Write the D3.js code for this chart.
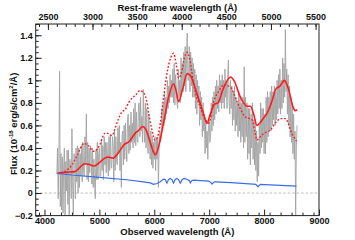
<!DOCTYPE html>
<html>
<head>
<meta charset="utf-8">
<script src="https://cdn.jsdelivr.net/npm/d3@7"></script>
<style>
  body { margin: 0; background: #fff; }
  svg { display: block; font-family: "Liberation Sans", Arial, sans-serif; }
  .axis text { font-size: 9px; font-weight: bold; fill: #111; }
  .axis line { stroke: #222; }
  .title { font-size: 9.5px; font-weight: bold; fill: #111; }
</style>
</head>
<body>
<svg id="chart"></svg>
<script>
// redshift between observed and rest frame
const z = 0.625;

// observed spectrum, uniform grid starting at 4225 A, 12.5 A per pixel
const grayStart = 4225;
const grayStep = 12.5;
const grayFlux = [
  0.17, 0.4, -0.05, 0.3, 1.08, -0.12, 0.35, -0.15,
  0.32, -0.18, 0.25, 0.4, -0.2, 0.28, 0.02, 0.38,
  -0.1, 0.38, -0.2, 0.3, 0.22, -0.05, 0.57, 0.1,
  -0.19, 0.35, 0.3, -0.05, 0.4, 0.1, 0.42, 0.0,
  0.4, 0.05, 0.35, 0.15, 0.42, 0.1, 0.45, 0.2,
  0.15, 0.5, 0.25, 0.7, 0.12, 0.45, 0.1, 0.4,
  0.18, 0.42, 0.35, 0.08, 0.4, 0.05, 0.3, 0.1,
  -0.05, 0.38, 0.12, 0.45, 0.12, 0.35, 0.4, 0.15,
  0.15, 0.48, 0.2, 0.42, 0.12, 0.5, 0.25, 0.45,
  0.18, 0.45, 0.3, 0.15, 0.5, 0.2, 0.52, 0.25,
  0.22, 0.5, 0.42, 0.1, 0.55, 0.2, 0.5, 0.3,
  0.25, 0.58, 0.35, 0.6, 0.2, 0.45, 0.05, 0.5,
  0.55, 0.25, 0.6, 0.3, 0.62, 0.4, 0.28, 0.65,
  0.7, 0.35, 0.6, 0.38, 0.72, 0.45, 0.62, 0.4,
  0.75, 0.45, 0.8, 0.42, 0.72, 0.5, 0.45, 0.78,
  0.8, 0.5, 0.85, 0.55, 0.68, 0.45, 0.92, 0.6,
  0.45, 0.8, 0.4, 0.75, 0.5, 0.35, 0.7, 0.45,
  0.3, 0.55, 0.25, 0.5, 0.22, 0.45, 0.3, 0.5,
  0.2, 0.48, 0.3, 0.5, 0.05, 0.4, 0.55, 0.45,
  0.5, 0.75, 0.55, 0.8, 0.6, 0.9, 0.65, 0.85,
  0.7, 1.0, 0.75, 0.95, 0.8, 1.05, 0.85, 1.0,
  0.85, 1.1, 0.8, 1.15, 0.78, 1.05, 0.95, 0.8,
  0.75, 1.1, 0.85, 1.0, 0.8, 1.2, 0.9, 1.15,
  0.9, 1.25, 0.95, 1.3, 0.9, 1.2, 1.42, 1.0,
  1.0, 1.3, 0.9, 1.25, 0.95, 1.2, 0.85, 1.15,
  0.85, 1.1, 0.75, 1.05, 0.7, 1.0, 0.8, 0.95,
  0.6, 0.9, 0.65, 0.85, 0.5, 0.8, 0.55, 0.7,
  0.35, 0.65, 0.4, 0.55, 0.3, 0.6, 0.65, 0.45,
  0.5, 0.8, 0.55, 0.85, 0.6, 0.9, 0.65, 0.95,
  0.7, 1.0, 0.75, 0.95, 0.72, 1.05, 0.8, 1.0,
  0.75, 1.05, 0.8, 1.0, 0.75, 1.1, 0.85, 1.0,
  0.75, 1.05, 1.18, 0.8, 0.7, 1.0, 0.75, 0.95,
  0.6, 0.9, 0.65, 0.95, 0.55, 0.85, 0.6, 0.8,
  0.5, 0.9, 0.55, 0.85, 0.45, 0.8, 0.5, 0.85,
  0.4, 1.12, 0.45, 0.85, 0.5, 0.8, 0.3, 0.75,
  0.35, 0.75, 0.25, 0.7, 0.4, 0.8, 0.3, 0.65,
  0.25, 0.65, 0.2, 0.55, 0.1, 0.45, 0.15, 0.6,
  0.35, 0.8, 0.4, 0.75, 0.45, 0.75, 0.35, 0.7,
  0.35, 0.85, 0.45, 0.9, 0.5, 0.85, 0.55, 0.9,
  0.55, 0.95, 0.6, 0.9, 0.65, 0.95, 0.6, 0.9,
  0.65, 1.0, 0.7, 1.05, 0.75, 1.1, 0.7, 1.0,
  0.75, 1.2, 0.8, 1.15, 0.85, 1.45, 0.9, 1.1,
  0.7, 1.05, 0.6, 0.95, 0.5, 0.85, 0.45, 0.8,
  0.35, 0.7, 0.3, 0.55, -0.2, 0.4, 0.6
];

// model 1 (solid red)
const modelAWave = [4250, 4400, 4550, 4650, 4730, 4800, 4900, 5000, 5100, 5150, 5250, 5350, 5450, 5550, 5650, 5700, 5790, 5850, 5920, 5980, 6020, 6060, 6110, 6168, 6260, 6351, 6400, 6442, 6520, 6600, 6660, 6777, 6900, 6960, 7020, 7100, 7160, 7250, 7390, 7460, 7560, 7690, 7750, 7810, 7870, 7920, 7980, 8054, 8146, 8210, 8290, 8370, 8440, 8530, 8570, 8600];
const modelAFlux = [0.18, 0.185, 0.19, 0.23, 0.26, 0.255, 0.24, 0.27, 0.31, 0.32, 0.31, 0.36, 0.43, 0.46, 0.53, 0.55, 0.59, 0.56, 0.46, 0.37, 0.34, 0.38, 0.48, 0.62, 0.85, 0.97, 0.9, 0.81, 0.93, 1.06, 1.04, 0.88, 0.7, 0.62, 0.7, 0.79, 0.8, 0.92, 1.03, 0.99, 0.86, 0.77, 0.77, 0.7, 0.6, 0.62, 0.66, 0.71, 0.82, 0.92, 0.95, 1.0, 0.93, 0.76, 0.73, 0.74];

// model 2 (dotted red)
const modelBWave = [4300, 4400, 4500, 4600, 4720, 4800, 4900, 5000, 5100, 5150, 5230, 5290, 5350, 5410, 5470, 5530, 5590, 5660, 5743, 5800, 5840, 5900, 5957, 6010, 6060, 6110, 6170, 6230, 6300, 6351, 6400, 6442, 6500, 6550, 6595, 6650, 6715, 6838, 6930, 6990, 7081, 7170, 7264, 7385, 7508, 7660, 7782, 7830, 7870, 7930, 8000, 8115, 8237, 8300, 8390, 8440, 8480, 8540, 8590];
const modelBFlux = [0.18, 0.2, 0.25, 0.34, 0.44, 0.42, 0.37, 0.42, 0.53, 0.53, 0.51, 0.58, 0.66, 0.72, 0.74, 0.8, 0.84, 0.87, 0.91, 0.89, 0.86, 0.7, 0.56, 0.47, 0.5, 0.62, 0.85, 1.06, 1.2, 1.24, 1.14, 1.02, 1.08, 1.2, 1.25, 1.18, 0.97, 0.76, 0.65, 0.62, 0.81, 0.9, 0.96, 0.94, 0.81, 0.675, 0.65, 0.55, 0.47, 0.5, 0.53, 0.56, 0.64, 0.66, 0.66, 0.62, 0.56, 0.5, 0.46];

// stellar / host component (blue)
const hostWave = [4223, 4500, 5000, 5500, 5800, 5926, 5986, 6050, 6108, 6168, 6200, 6230, 6260, 6290, 6320, 6350, 6380, 6413, 6440, 6473, 6510, 6546, 6600, 6640, 6657, 6680, 6715, 6850, 6990, 7030, 7051, 7080, 7112, 7400, 7800, 7850, 7890, 7915, 7933, 8200, 8590];
const hostFlux = [0.175, 0.16, 0.14, 0.118, 0.1, 0.09, 0.077, 0.085, 0.1, 0.124, 0.12, 0.088, 0.12, 0.13, 0.12, 0.088, 0.12, 0.13, 0.12, 0.088, 0.12, 0.13, 0.12, 0.11, 0.09, 0.11, 0.115, 0.11, 0.106, 0.095, 0.08, 0.095, 0.1, 0.092, 0.08, 0.077, 0.056, 0.07, 0.077, 0.07, 0.062];

// tick labels
const obsTicks = [4000, 5000, 6000, 7000, 8000, 9000];
const restTicks = [2500, 3000, 3500, 4000, 4500, 5000, 5500];
const fluxTicks = [-0.2, 0, 0.2, 0.4, 0.6, 0.8, 1, 1.2, 1.4];

const W = 355, H = 240;
const margin = {top: 24, right: 36, bottom: 24.4, left: 35.7};
const width = W - margin.left - margin.right;
const height = H - margin.top - margin.bottom;

const svg = d3.select('#chart').attr('width', W).attr('height', H);
const g = svg.append('g').attr('transform', `translate(${margin.left},${margin.top})`);

const x = d3.scaleLinear().domain([3840, 9000]).range([0, width]);
const xRest = d3.scaleLinear().domain([3840 / (1 + z), 9000 / (1 + z)]).range([0, width]);
const y = d3.scaleLinear().domain([-0.2, 1.5]).range([height, 0]);

// zero line
g.append('line')
    .attr('x1', 0).attr('x2', width)
    .attr('y1', y(0)).attr('y2', y(0))
    .attr('stroke', '#aaa').attr('stroke-width', 0.8)
    .attr('stroke-dasharray', '2.5,2');

const gray = grayFlux.map((v, i) => [grayStart + i * grayStep, v]);
const line = d3.line().x(d => x(d[0])).y(d => y(d[1]));
const smooth = d3.line().x(d => x(d[0])).y(d => y(d[1])).curve(d3.curveMonotoneX);

g.append('path')
    .datum(gray)
    .attr('d', line)
    .attr('fill', 'none')
    .attr('stroke', '#a2a2a2')
    .attr('stroke-width', 0.9);

g.append('path')
    .datum(hostWave.map((w, i) => [w, hostFlux[i]]))
    .attr('d', line)
    .attr('fill', 'none')
    .attr('stroke', '#3a6cf0')
    .attr('stroke-width', 1.2);

g.append('path')
    .datum(modelBWave.map((w, i) => [w, modelBFlux[i]]))
    .attr('d', smooth)
    .attr('fill', 'none')
    .attr('stroke', '#ff1a1a')
    .attr('stroke-width', 1.4)
    .attr('stroke-dasharray', '1.8,1.8');

g.append('path')
    .datum(modelAWave.map((w, i) => [w, modelAFlux[i]]))
    .attr('d', smooth)
    .attr('fill', 'none')
    .attr('stroke', '#ff1a1a')
    .attr('stroke-width', 1.6);

// axes, ticks pointing inward
const minor = (a, b, step) => d3.range(a, b + step / 2, step);

g.append('g').attr('class', 'axis').attr('transform', `translate(0,${height})`)
    .call(d3.axisBottom(x).tickValues(minor(3900, 9000, 200)).tickSizeInner(-3).tickSizeOuter(0).tickFormat(''));
g.append('g').attr('class', 'axis').attr('transform', `translate(0,${height})`)
    .call(d3.axisBottom(x).tickValues(obsTicks).tickSizeInner(-6).tickSizeOuter(0).tickPadding(2).tickFormat(d3.format('d')));

g.append('g').attr('class', 'axis')
    .call(d3.axisTop(xRest).tickValues(minor(2400, 5500, 100)).tickSizeInner(-3).tickSizeOuter(0).tickFormat(''));
g.append('g').attr('class', 'axis')
    .call(d3.axisTop(xRest).tickValues(restTicks).tickSizeInner(-6).tickSizeOuter(0).tickPadding(4).tickFormat(d3.format('d')));

g.append('g').attr('class', 'axis')
    .call(d3.axisLeft(y).tickValues(minor(-0.2, 1.5, 0.05)).tickSizeInner(-3).tickSizeOuter(0).tickFormat(''));
g.append('g').attr('class', 'axis')
    .call(d3.axisLeft(y).tickValues(fluxTicks).tickSizeInner(-6).tickSizeOuter(0).tickPadding(3).tickFormat(d => d3.format('~g')(d)));

g.selectAll('.axis .domain').remove();

g.append('rect')
    .attr('width', width).attr('height', height)
    .attr('fill', 'none').attr('stroke', '#222').attr('stroke-width', 1);

// titles
svg.append('text').attr('class', 'title')
    .attr('x', margin.left + width / 2).attr('y', 10.5)
    .attr('text-anchor', 'middle')
    .text('Rest-frame wavelength (Å)');

svg.append('text').attr('class', 'title')
    .attr('x', margin.left + width / 2).attr('y', 235)
    .attr('text-anchor', 'middle')
    .text('Observed wavelength (Å)');

const yt = svg.append('text').attr('class', 'title')
    .attr('transform', `translate(17,${margin.top + height / 2 + 4}) rotate(-90)`)
    .attr('text-anchor', 'middle');
yt.append('tspan').text('Flux (10');
yt.append('tspan').attr('font-size', '6px').attr('dy', '-4').text('-18');
yt.append('tspan').attr('dy', '4').text(' erg/s/cm');
yt.append('tspan').attr('font-size', '6px').attr('dy', '-4').text('2');
yt.append('tspan').attr('dy', '4').text('/Å)');
</script>
</body>
</html>
